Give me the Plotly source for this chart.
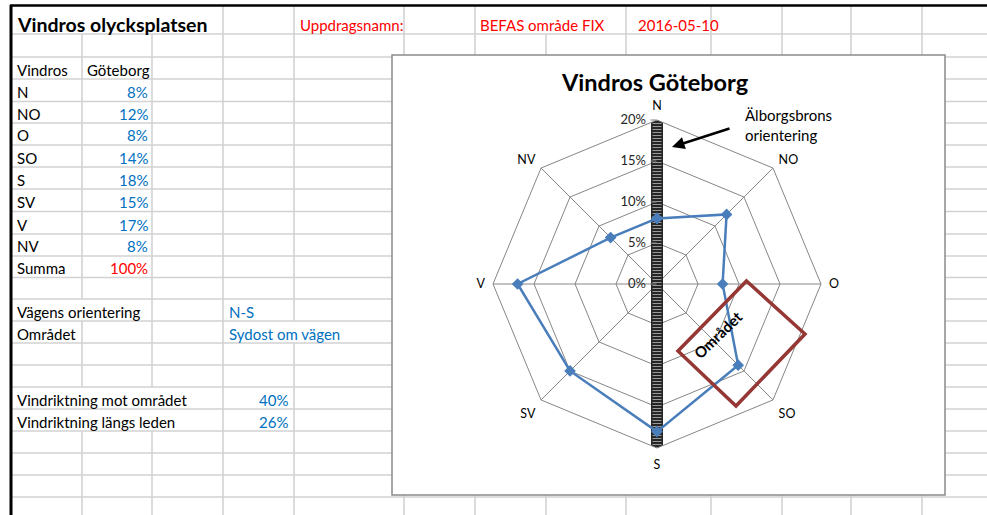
import plotly.graph_objects as go

W, H = 987, 515
FONT = "Lato"

# ---------------- data ----------------
directions = ["N", "NO", "O", "SO", "S", "SV", "V", "NV"]
goteborg_pct = [8, 12, 8, 14, 18, 15, 17, 8]
radial_ticks = [0, 5, 10, 15, 20]
radial_tick_labels = ["0%", "5%", "10%", "15%", "20%"]
bridge_axis = ["N", "S"]          # Älvsborgsbrons orientering
bridge_extent = [20, 20]
road_orientation = "N-S"
area_position = "Sydost om vägen"
wind_toward_area_pct = 40
wind_along_road_pct = 26
project_label = "Uppdragsnamn:"
project_name = "BEFAS område FIX"
project_date = "2016-05-10"


def px(x):
    return x / W


def py(y):
    return 1 - y / H


# ---------------- spreadsheet grid ----------------
row_y = [5, 34, 57, 79, 101.5, 123, 145, 167, 189, 211.5, 234, 256, 277.5,
         299, 321, 343, 365, 387, 409, 431, 453, 475, 497, 515]
col_x = [82, 152, 223, 294, 404, 475, 546, 626, 711, 782, 851, 922]
hidden = {0: {82, 152, 546}, 13: {82}, 14: {294}, 17: {82, 152}, 18: {82, 152}}
GRID = "#d2d2d2"

shapes = []
for y in row_y[1:-1]:
    shapes.append(dict(type="line", xref="paper", yref="paper", x0=px(11), x1=1,
                       y0=py(y), y1=py(y), line=dict(color=GRID, width=1.6), layer="below"))
for i in range(len(row_y) - 1):
    for x in col_x:
        if x in hidden.get(i, set()):
            continue
        shapes.append(dict(type="line", xref="paper", yref="paper", x0=px(x), x1=px(x),
                           y0=py(row_y[i]), y1=py(row_y[i + 1]),
                           line=dict(color=GRID, width=1.6), layer="below"))
# thick borders
shapes.append(dict(type="line", xref="paper", yref="paper", x0=px(10), x1=1,
                   y0=py(5.5), y1=py(5.5), line=dict(color="black", width=2.5), layer="below"))
shapes.append(dict(type="line", xref="paper", yref="paper", x0=px(11), x1=px(11),
                   y0=py(5), y1=0, line=dict(color="black", width=3), layer="below"))
# chart area box
shapes.append(dict(type="rect", xref="paper", yref="paper", x0=px(392), x1=px(945),
                   y0=py(495), y1=py(55), fillcolor="white",
                   line=dict(color="#8a8a8a", width=1.5), layer="below"))
# 'Området' marker square
sq = [(746.5, 281), (805, 334), (736, 406), (678, 351)]
path = "M " + " L ".join(f"{px(a):.5f},{py(b):.5f}" for a, b in sq) + " Z"
shapes.append(dict(type="path", xref="paper", yref="paper", path=path,
                   line=dict(color="#953735", width=3.5), layer="above"))

# ---------------- cell texts ----------------
BLUE = "#0070C0"
RED = "#FF0000"
annotations = []


def cell(row, x, text, color="black", anchor="left", size=15, bold=False):
    yb = row_y[row + 1] - 9.5
    t = f"<b>{text}</b>" if bold else text
    annotations.append(dict(x=px(x), y=py(yb), xref="paper", yref="paper", text=t,
                            showarrow=False, xanchor=anchor, yanchor="middle",
                            font=dict(family=FONT, size=size, color=color)))


cell(0, 15, "Vindros olycksplatsen", size=19.5, bold=True)
cell(0, 298, project_label, RED)
cell(0, 478, project_name, RED)
cell(0, 636, project_date, RED)
cell(2, 15, "Vindros")
cell(2, 85, "Göteborg")
for k, (d, v) in enumerate(zip(directions, goteborg_pct)):
    cell(3 + k, 15, d)
    cell(3 + k, 150, f"{v}%", BLUE, "right")
cell(11, 15, "Summa")
cell(11, 150, f"{sum(goteborg_pct)}%", RED, "right")
cell(13, 15, "Vägens orientering")
cell(13, 227, road_orientation, BLUE)
cell(14, 15, "Området")
cell(14, 227, area_position, BLUE)
cell(17, 15, "Vindriktning mot området")
cell(17, 290, f"{wind_toward_area_pct}%", BLUE, "right")
cell(18, 15, "Vindriktning längs leden")
cell(18, 290, f"{wind_along_road_pct}%", BLUE, "right")


def note(x, y, text, size, anchor="center", angle=0):
    annotations.append(dict(x=px(x), y=py(y), xref="paper", yref="paper", text=text,
                            showarrow=False, xanchor=anchor, yanchor="middle",
                            textangle=angle, font=dict(family=FONT, size=size, color="black")))


note(655, 82, "<b>Vindros Göteborg</b>", 23.5)
note(743, 115, "Älborgsbrons", 15, "left")
note(743, 135, "orientering", 15, "left")
note(717.5, 335, "<b>Området</b>", 15, angle=-44)
annotations.append(dict(x=px(672), y=py(147), xref="paper", yref="paper", text="",
                        showarrow=True, ax=59, ay=-19, arrowhead=2, arrowsize=1,
                        arrowwidth=2.5, arrowcolor="black", standoff=0))

# ---------------- radar ----------------
fig = go.Figure()
fig.add_trace(go.Scatterpolar(r=bridge_extent, theta=bridge_axis, mode="lines",
                              line=dict(color="#262626", width=12), hoverinfo="skip",
                              showlegend=False))
fig.add_trace(go.Scatterpolar(r=bridge_extent, theta=bridge_axis, mode="lines",
                              line=dict(color="#9a9a9a", width=9, dash="1px,2px"),
                              hoverinfo="skip", showlegend=False))
fig.add_trace(go.Scatterpolar(r=goteborg_pct + goteborg_pct[:1],
                              theta=directions + directions[:1], mode="lines+markers",
                              line=dict(color="#4A7EBB", width=2.5),
                              marker=dict(symbol="diamond", size=9, color="#4A7EBB"),
                              name="Göteborg", showlegend=False))

fig.update_layout(
    width=W, height=H, margin=dict(l=0, r=0, t=0, b=0),
    paper_bgcolor="white", plot_bgcolor="white",
    font=dict(family=FONT, color="black"),
    shapes=shapes, annotations=annotations, showlegend=False,
    polar=dict(
        domain=dict(x=[px(493), px(821)], y=[py(448), py(120)]),
        bgcolor="rgba(0,0,0,0)", gridshape="linear",
        angularaxis=dict(type="category", categoryarray=directions, direction="clockwise",
                         rotation=90, showline=True, linecolor="#868686", linewidth=1,
                         gridcolor="#868686", gridwidth=1, ticks="outside", ticklen=5,
                         tickcolor="rgba(0,0,0,0)",
                         tickfont=dict(family=FONT, size=12.5, color="black")),
        radialaxis=dict(range=[0, 20], tickvals=radial_ticks, ticktext=radial_tick_labels,
                        angle=90, tickangle=90, side="counterclockwise", showline=False,
                        gridcolor="#868686", gridwidth=1, ticks="outside", ticklen=6,
                        tickcolor="#868686",
                        tickfont=dict(family=FONT, size=13, color="#262626")),
    ),
)

fig.write_html("out.html", config={"displayModeBar": False},
               post_script="document.body.style.margin='0';document.body.style.overflow='hidden';")
